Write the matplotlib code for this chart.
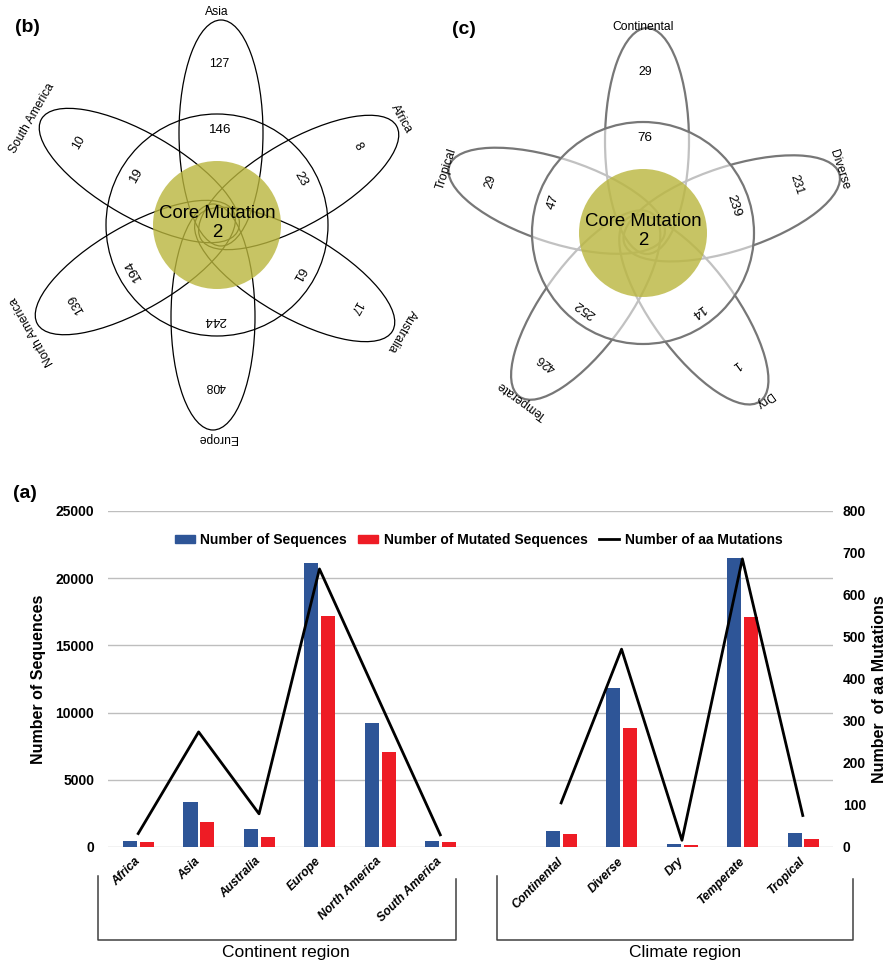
import numpy as np
import matplotlib
matplotlib.use("Agg")
import matplotlib.pyplot as plt
from matplotlib.patches import Ellipse, Circle, Patch
from matplotlib.lines import Line2D

plt.rcParams['font.family'] = ['Liberation Sans', 'DejaVu Sans']

# ---------------- data ----------------
continent_petals = ["Asia", "Africa", "Australia", "Europe", "North America", "South America"]
continent_unique = [127, 8, 17, 408, 139, 10]
continent_shared = [146, 23, 61, 244, 194, 19]
continent_core = 2

climate_petals = ["Continental", "Diverse", "Dry", "Temperate", "Tropical"]
climate_unique = [29, 231, 1, 426, 29]
climate_shared = [76, 239, 14, 252, 47]
climate_core = 2

continents = ["Africa", "Asia", "Australia", "Europe", "North America", "South America"]
cont_seq = [450, 3350, 1310, 21100, 9200, 450]
cont_mut_seq = [340, 1880, 770, 17200, 7070, 370]
cont_aa = [32, 274, 79, 662, 345, 29]

climates = ["Continental", "Diverse", "Dry", "Temperate", "Tropical"]
clim_seq = [1190, 11850, 250, 21500, 1010]
clim_mut_seq = [990, 8850, 150, 17100, 570]
clim_aa = [105, 471, 16, 686, 75]

W, H = 889, 961
fig = plt.figure(figsize=(W / 100, H / 100), dpi=100)

# overlay axes in pixel coordinates (for Venn diagrams and annotations)
ov = fig.add_axes([0, 0, 1, 1], zorder=0)
ov.set_xlim(0, W)
ov.set_ylim(H, 0)
ov.axis('off')

CORE_FACE = '#BAB63D'


def flower(ax, cx, cy, names, uniq, shared, core, edge, lw, veil, label_r):
    n = len(names)
    a, b, d, toff = 113, 42, 92, 4
    for i in range(n):
        th = 360.0 * i / n
        t = np.radians(th)
        ux, uy = np.sin(t), -np.cos(t)
        px, py = np.cos(t), np.sin(t)
        ex = cx + d * ux + toff * px
        ey = cy + d * uy + toff * py
        ax.add_patch(Ellipse((ex, ey), 2 * b, 2 * a, angle=th, fill=False,
                             ec=edge, lw=lw, zorder=1))
        rot = -th
        ax.text(cx + 161 * ux + 2 * px, cy + 161 * uy + 2 * py, str(uniq[i]),
                rotation=rot, ha='center', va='center', fontsize=8.7, zorder=5,
                rotation_mode='anchor')
        ax.text(cx + 95 * ux + 2 * px, cy + 95 * uy + 2 * py, str(shared[i]),
                rotation=rot, ha='center', va='center', fontsize=9.7, zorder=5,
                rotation_mode='anchor')
        ax.text(cx + label_r * ux, cy + label_r * uy, names[i], rotation=rot,
                ha='center', va='center', fontsize=8.7, zorder=5,
                rotation_mode='anchor')
    if veil:
        ax.add_patch(Circle((cx, cy), 111, fc='white', alpha=0.55, ec='none', zorder=2))
    ax.add_patch(Circle((cx, cy), 111, fill=False, ec=edge, lw=lw, zorder=2.5))
    ax.add_patch(Circle((cx, cy), 64, fc=CORE_FACE, alpha=0.8, ec='none', zorder=3))
    ax.text(cx, cy - 2, "Core Mutation\n" + str(core), ha='center', va='center',
            fontsize=13.4, linespacing=1.2, zorder=5)


flower(ov, 217, 225, continent_petals, continent_unique, continent_shared,
       continent_core, 'black', 0.9, False, 213)
flower(ov, 643, 233, climate_petals, climate_unique, climate_shared,
       climate_core, '#777777', 1.6, True, 206)

ov.text(15, 28, "(b)", fontsize=14, fontweight='bold', ha='left', va='center')
ov.text(452, 30, "(c)", fontsize=14, fontweight='bold', ha='left', va='center')
ov.text(13, 494, "(a)", fontsize=14, fontweight='bold', ha='left', va='center')

# ---------------- bar chart ----------------
L, R, T, B = 108, 833, 511, 847
ax = fig.add_axes([L / W, 1 - B / H, (R - L) / W, (B - T) / H], zorder=2)
ax.patch.set_alpha(0)
ax2 = ax.twinx()

cont_x = np.arange(len(continents))
clim_x = np.arange(len(climates)) + len(continents) + 1
xs = np.concatenate([cont_x, clim_x])
labels = continents + climates
seq = np.array(cont_seq + clim_seq, dtype=float)
mut = np.array(cont_mut_seq + clim_mut_seq, dtype=float)

bw = 0.235
ax.bar(xs - 0.135, seq, width=bw, color='#2E5597', label='Number of Sequences', zorder=2)
ax.bar(xs + 0.145, mut, width=bw, color='#EE1C25', label='Number of Mutated Sequences', zorder=2)

line_x = np.concatenate([cont_x, [len(continents)], clim_x])
line_y = np.array(cont_aa + [np.nan] + clim_aa, dtype=float)
ax2.plot(line_x, line_y, color='black', lw=2, label='Number of aa Mutations', zorder=3)

ax.set_xlim(-0.5, xs.max() + 0.5)
ax.set_ylim(0, 25000)
ax2.set_ylim(0, 800)
ax.set_yticks(np.arange(0, 25001, 5000))
ax2.set_yticks(np.arange(0, 801, 100))
ax.yaxis.grid(True, color='#BEBEBE', lw=1.0)
ax.set_axisbelow(True)
for a_ in (ax, ax2):
    for s in a_.spines.values():
        s.set_visible(False)
ax.tick_params(axis='y', length=0, pad=10, labelsize=10)
ax2.tick_params(axis='y', length=0, pad=7, labelsize=10)
for lab in ax.get_yticklabels() + ax2.get_yticklabels():
    lab.set_fontweight('bold')

ax.set_xticks(xs)
ax.set_xticklabels(labels, rotation=45, ha='right', va='center',
                   rotation_mode='anchor', fontsize=8.7, fontweight='bold',
                   fontstyle='italic')
ax.tick_params(axis='x', length=0, pad=9)

ax.set_ylabel("Number of Sequences", fontsize=11.5, fontweight='bold')
ax.yaxis.set_label_coords(-0.0855, 0.5)
ax2.set_ylabel("Number  of aa Mutations", fontsize=11.5, fontweight='bold',
               rotation=90, va='top')
ax2.yaxis.set_label_coords(1.054, 0.47)

handles = [Patch(color='#2E5597'), Patch(color='#EE1C25'),
           Line2D([], [], color='black', lw=2)]
ax2.legend(handles, ['Number of Sequences', 'Number of Mutated Sequences',
                     'Number of aa Mutations'],
           loc='center', bbox_to_anchor=(0.511, 0.914), ncol=3, frameon=False,
           prop={'weight': 'bold', 'size': 10}, handlelength=1.45,
           handleheight=0.5, handletextpad=0.4, columnspacing=0.8)

# group brackets
bc = '#404040'
for (x0, x1, tx, txt) in [(98, 456, 286, "Continent region"),
                          (497, 853, 685, "Climate region")]:
    ov.plot([x0, x0, x1, x1], [876, 940, 940, 879], color=bc, lw=1.1)
    ov.text(tx, 952, txt, ha='center', va='center', fontsize=12.5)

fig.savefig("out.png", dpi=100)
